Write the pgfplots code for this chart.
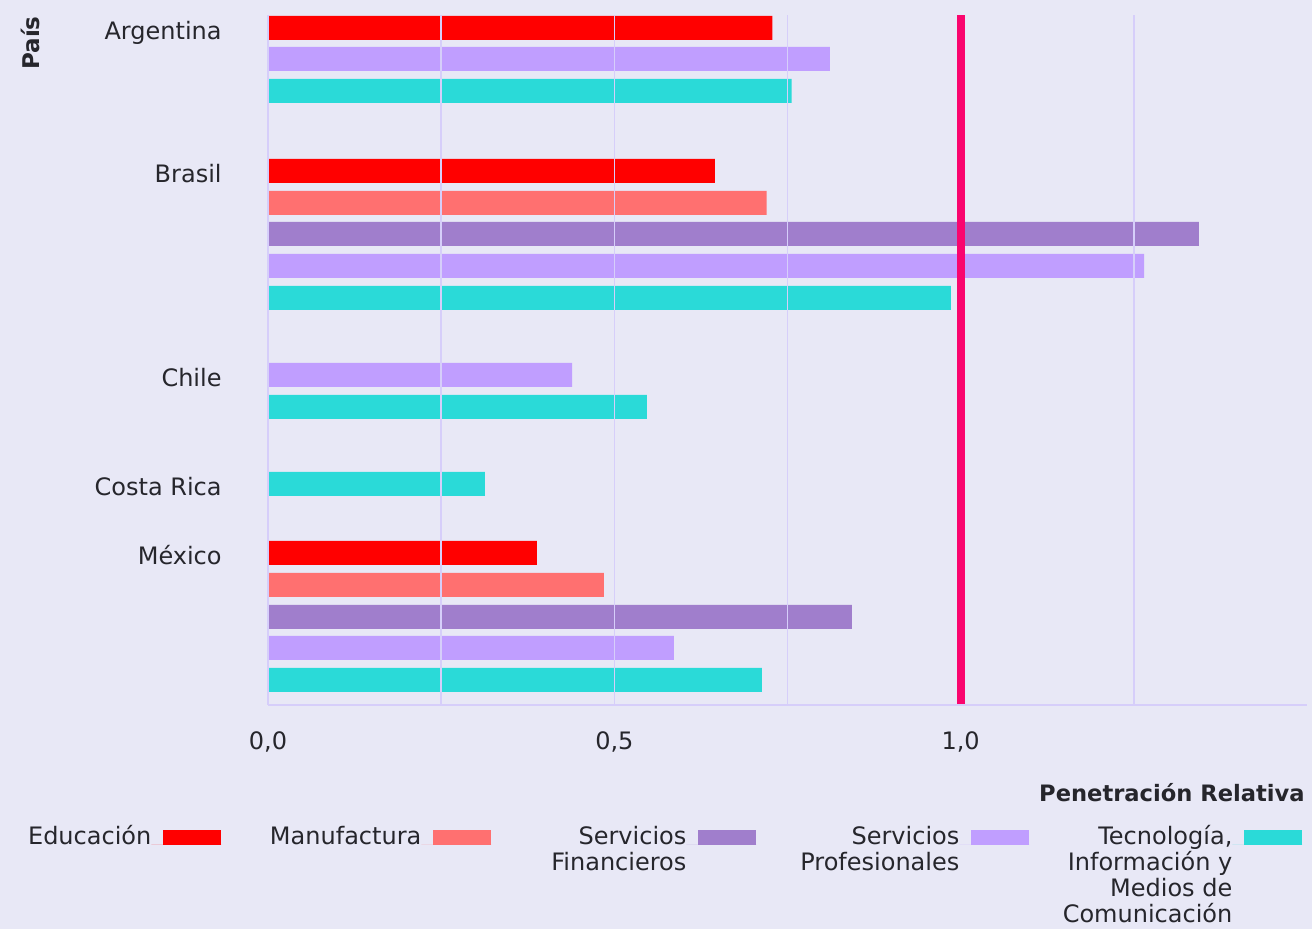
\documentclass[border=0pt]{standalone}
\usepackage{pgfplots}
\pgfplotsset{compat=1.18}
\usepackage{fontspec}
\setmainfont{DejaVu Sans}
\definecolor{bgc}{RGB}{232,232,246}
\definecolor{gridc}{RGB}{214,206,250}
\definecolor{edu}{RGB}{255,0,0}
\definecolor{man}{RGB}{255,112,112}
\definecolor{sf}{RGB}{160,126,204}
\definecolor{sp}{RGB}{192,158,255}
\definecolor{tec}{RGB}{42,218,216}
\definecolor{refc}{RGB}{250,5,110}
\definecolor{txt}{RGB}{38,38,44}
\begin{document}
\begin{tikzpicture}[font=\fontsize{12}{13.1}\selectfont]
\path[use as bounding box, fill=bgc] (0,0) rectangle (656pt,464.5pt);
\begin{axis}[
  at={(134pt,112pt)}, anchor=south west,
  scale only axis, width=519.5pt, height=345pt,
  xmin=0, xmax=1.5, ymin=0, ymax=690,
  xbar, bar width=12pt, bar shift=0pt,
  axis on top,
  axis lines*=left,
  axis line style={draw=gridc, line width=1pt, -},
  xtick={0,0.5,1}, xticklabels={{0,0},{0,5},{1,0}},
  extra x ticks={0,0.25,0.5,0.75,1.25}, extra x tick labels={},
  extra x tick style={grid=major},
  major grid style={draw=gridc, line width=0.75pt},
  ytick={677,534,330,221,152},
  yticklabels={Argentina,Brasil,Chile,Costa Rica,México},
  major tick length=0pt,
  xticklabel style={anchor=base, inner sep=0pt, yshift=-22.5pt, text=txt},
  yticklabel style={anchor=base east, inner sep=0pt, xshift=-23pt, yshift=-6pt, text=txt},
  legend columns=5, legend plot pos=right,
  legend image code/.code={\path (0pt,0pt) -- (35pt,0pt); \fill[#1] (6pt,-0.5pt) rectangle (35pt,7pt);},
  legend style={at={(-0.2368,-0.1735)}, anchor=north west, draw=none, fill=none,
    inner sep=0pt, column sep=0pt, row sep=0pt,
    cells={anchor=base east}, nodes={inner sep=0pt, text depth=, text=txt}},
]
\addplot[fill=edu, draw=none] coordinates {(0.728,677) (0.645,534) (0.388,152)};
\addlegendentry{\parbox[t]{64.5pt}{\raggedleft Educación}}
\addplot[fill=man, draw=none] coordinates {(0.720,502) (0.485,120)};
\addlegendentry{\parbox[t]{100pt}{\raggedleft Manufactura}}
\addplot[fill=sf, draw=none] coordinates {(1.344,471) (0.843,88)};
\addlegendentry{\parbox[t]{97.5pt}{\raggedleft Servicios\\Financieros}}
\addplot[fill=sp, draw=none] coordinates {(0.811,646) (1.265,439) (0.439,330) (0.586,57)};
\addlegendentry{\parbox[t]{101.5pt}{\raggedleft Servicios\\Profesionales}}
\addplot[fill=tec, draw=none] coordinates {(0.756,614) (0.986,407) (0.547,298) (0.313,221) (0.713,25)};
\addlegendentry{\parbox[t]{101.5pt}{\raggedleft Tecnología,\\Información y\\Medios de\\Comunicación}}
\addplot[sharp plot, draw=refc, line width=4pt, forget plot] coordinates {(1,0) (1,690)};
\end{axis}
\node[rotate=90, anchor=base east, inner sep=0pt, text=txt, font=\fontsize{11.5}{13}\selectfont\bfseries] at (19.5pt,456.5pt) {País};
\node[anchor=base east, inner sep=0pt, text=txt, font=\fontsize{11.3}{13}\selectfont\bfseries] at (652.5pt,63.5pt) {Penetración Relativa};
\end{tikzpicture}
\end{document}
